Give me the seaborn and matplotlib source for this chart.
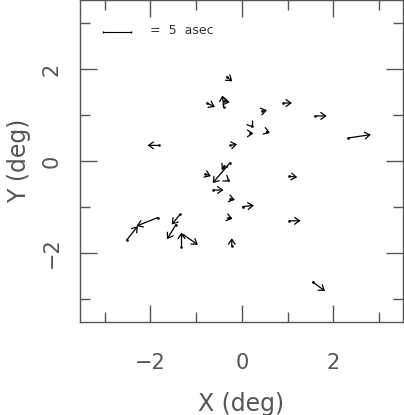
import numpy as np
import pandas as pd
import matplotlib
matplotlib.use('Agg')
import matplotlib.pyplot as plt
import seaborn as sn

"""proper motion vectors of stars across the field, 5 asec reference bar"""

# star positions (deg) and motion vectors (asec)
x_deg = [-0.33, -0.40, -0.40, -0.76, 0.90, 0.44, 1.60, 2.32, 0.22, 0.18, 0.54, -0.25, -1.82,
         -0.26, -0.38, -0.80, -0.30, -0.62, -0.25, 0.02, 1.04, -0.30, 1.04, -0.22,
         -2.52, -1.84, -1.35, -1.44, -1.32, -1.28, 1.55]
y_deg = [1.83, 1.17, 1.30, 1.26, 1.26, 1.08, 0.98, 0.50, 0.76, 0.60, 0.64, 0.34, 0.34,
         -0.04, -0.10, -0.28, -0.42, -0.63, -0.82, -0.99, -0.33, -1.23, -1.30, -1.85,
         -1.72, -1.23, -1.16, -1.38, -1.86, -1.60, -2.63]
u_asec = [1.0, -0.2, 1.1, 1.4, 1.6, 0.9, 2.1, 4.1, 0.2, 0.6, 0.6, 1.2, -2.0,
          -3.1, -0.5, 1.0, 0.3, 1.8, 0.8, 2.0, 1.4, 0.8, 2.0, 0.0,
          2.0, -3.8, -1.5, -1.6, 0.0, 2.6, 2.2]
v_asec = [-0.8, 2.1, -0.2, -0.7, 0.0, 0.2, 0.0, 0.6, -0.3, 0.0, -0.2, 0.2, 0.0,
          -3.6, -0.8, -0.4, -0.2, 0.0, -0.2, 0.2, -0.2, -0.2, 0.0, 1.4,
          2.5, -1.5, -1.8, -2.6, 2.5, -1.8, -1.6]

asec_per_deg = 8.2  # 5 asec bar is ~0.61 deg long on the plot
ref_asec = 5
grey = '#555555'
txt = '#555555'


def main():
    df = pd.DataFrame({'x': x_deg, 'y': y_deg, 'u': u_asec, 'v': v_asec})
    df['x2'] = df['x'] + df['u'] / asec_per_deg
    df['y2'] = df['y'] + df['v'] / asec_per_deg
    plot_vectors(df)


def plot_vectors(df):
    sn.set_style('ticks')
    plt.rcParams['font.family'] = ['DejaVu Sans']
    fig = plt.figure(figsize=(4.04, 4.15), dpi=100)
    ax = fig.add_axes([0.198, 0.224, 0.799, 0.776])

    for _, r in df.iterrows():
        ax.annotate('', xy=(r['x2'], r['y2']), xytext=(r['x'], r['y']),
                    arrowprops=dict(arrowstyle='->,head_length=0.5,head_width=0.35', lw=0.9,
                                    color='k', mutation_scale=7, shrinkA=0, shrinkB=0))
    sn.scatterplot(data=df, x='x', y='y', s=3, color='k', edgecolor=None, ax=ax, zorder=3)

    # reference bar
    bx = -3.04
    ax.plot([bx, bx + ref_asec / asec_per_deg], [2.8, 2.8], color='k', lw=0.8,
            marker='|', ms=2)
    ax.text(-2.0, 2.83, f'=  {ref_asec}  asec', fontsize=9, color='#333333', va='center')

    ax.set_xlim(-3.54, 3.52)
    ax.set_ylim(-3.5, 3.5)
    ax.set_xticks([-2, 0, 2])
    ax.set_yticks([-2, 0, 2])
    ax.set_xticks([-3, -1, 1, 3], minor=True)
    ax.set_yticks([-3, -1, 1, 3], minor=True)
    ax.tick_params(which='both', direction='in', top=True, right=True, color=grey, width=1)
    ax.tick_params(which='major', length=12, labelsize=15, labelcolor=txt)
    ax.tick_params(which='minor', length=7)
    ax.tick_params(axis='x', pad=22)
    ax.tick_params(axis='y', pad=13)
    for lab in ax.get_yticklabels():
        lab.set_rotation(90)
        lab.set_va('center')
    for sp in ax.spines.values():
        sp.set_color(grey)
        sp.set_linewidth(1)
    ax.set_xlabel('X (deg)', fontsize=17, color=txt, labelpad=14)
    ax.set_ylabel('Y (deg)', fontsize=17, color=txt, labelpad=8)

    plt.savefig('out.png', dpi=100)
    plt.close()


main()
